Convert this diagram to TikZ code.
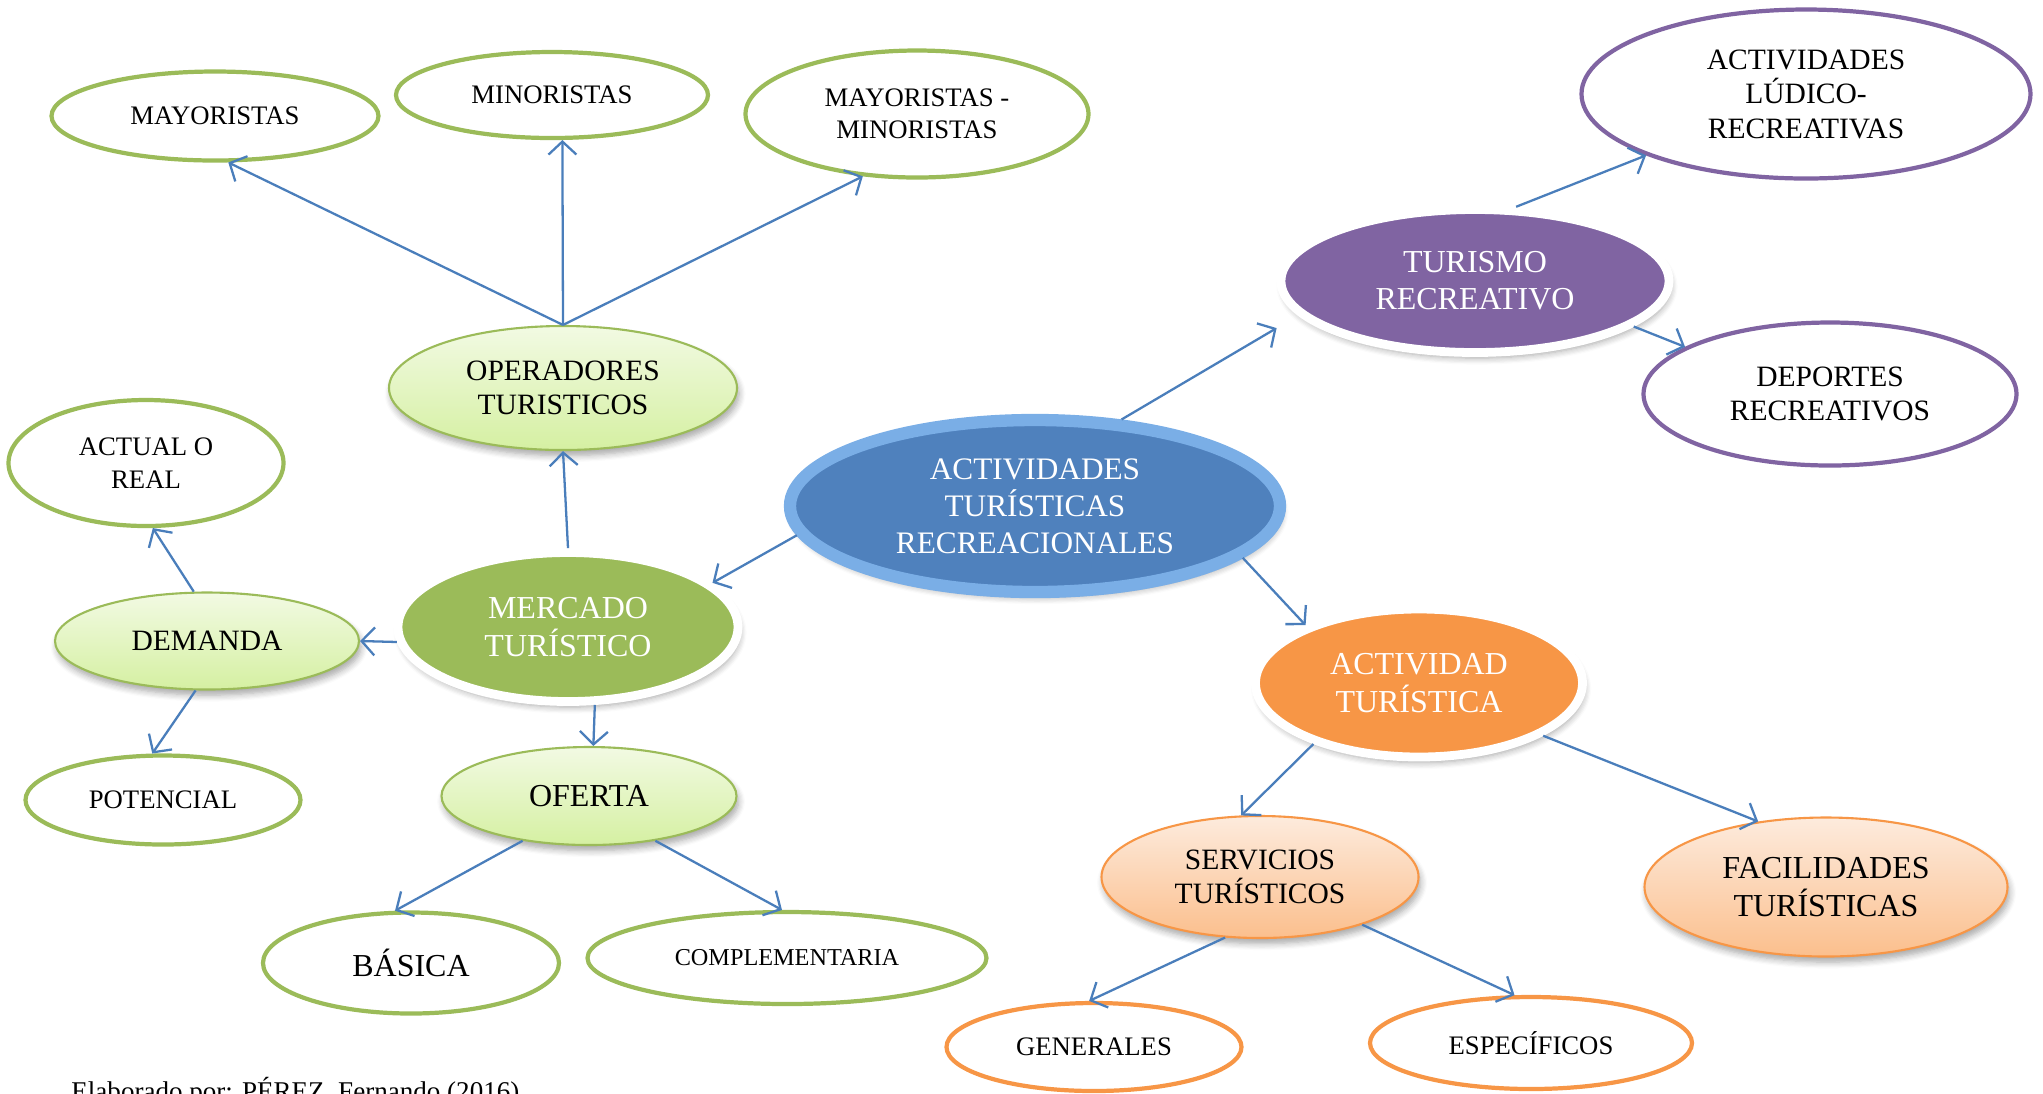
\documentclass[tikz,border=0pt]{standalone}
\usepackage{fontspec}
\setmainfont{Liberation Serif}
\usepackage{tikz}
\usetikzlibrary{shapes}
\usetikzlibrary{shadows.blur}
\usetikzlibrary{arrows.meta}
\definecolor{verde}{HTML}{9BBB59}
\definecolor{verdeA}{HTML}{F2FAE3}
\definecolor{verdeB}{HTML}{D5F0A2}
\definecolor{morado}{HTML}{8064A2}
\definecolor{naranja}{HTML}{F79646}
\definecolor{naranjaA}{HTML}{FDEBDD}
\definecolor{naranjaB}{HTML}{FBBF8D}
\definecolor{azul}{HTML}{4F81BD}
\definecolor{azulB}{HTML}{7AAEE6}
\definecolor{flechaazul}{HTML}{4A7EBB}
\tikzstyle{elip}=[ellipse, inner sep=0pt, align=center]
\tikzstyle{sombra}=[blur shadow={shadow xshift=0.6pt, shadow yshift=-1.6pt, shadow opacity=35, shadow blur steps=6}]
\tikzstyle{borde}=[elip, fill=white, line width=1.2pt]
\tikzstyle{claro}=[elip, line width=0.6pt, sombra]
\tikzstyle{lleno}=[elip, draw=white, line width=2.5pt, text=white, sombra]
\tikzstyle{flecha}=[draw=flechaazul, line width=0.65pt, -{Straight Barb[length=1.3mm,width=2.8mm]}]
\tikzstyle{fa}=[font=\fontsize{7.6}{9.2}\selectfont]
\tikzstyle{fb}=[font=\fontsize{8.4}{9.8}\selectfont]
\tikzstyle{fc}=[font=\fontsize{9.1}{10.6}\selectfont]

\begin{document}
\begin{tikzpicture}
\useasboundingbox (0,0) rectangle (20.43,-10.93);

% mercado turistico
\node[borde, draw=verde, fa, minimum width=3.27cm, minimum height=0.89cm] (mayor) at (2.15,-1.16) {MAYORISTAS};
\node[borde, draw=verde, fa, minimum width=3.12cm, minimum height=0.86cm] (minor) at (5.52,-0.95) {MINORISTAS};
\node[borde, draw=verde, fa, minimum width=3.43cm, minimum height=1.27cm] (maymin) at (9.17,-1.14) {MAYORISTAS -\\MINORISTAS};
\node[claro, draw=verde, top color=verdeA, bottom color=verdeB, fb, minimum width=3.48cm, minimum height=1.24cm] (oper) at (5.63,-3.88) {OPERADORES\\TURISTICOS};
\node[borde, draw=verde, fa, minimum width=2.75cm, minimum height=1.26cm] (actual) at (1.46,-4.63) {ACTUAL O\\REAL};
\node[claro, draw=verde, top color=verdeA, bottom color=verdeB, fb, minimum width=3.04cm, minimum height=0.97cm] (demanda) at (2.07,-6.41) {DEMANDA};
\node[lleno, fill=verde, fc, minimum width=3.40cm, minimum height=1.49cm] (mercado) at (5.68,-6.27) {MERCADO\\TURÍSTICO};
\node[borde, draw=verde, fa, minimum width=2.75cm, minimum height=0.89cm] (potencial) at (1.63,-8.00) {POTENCIAL};
\node[claro, draw=verde, top color=verdeA, bottom color=verdeB, fc, minimum width=2.95cm, minimum height=0.98cm] (oferta) at (5.89,-7.96) {OFERTA};
\node[borde, draw=verde, fc, minimum width=2.96cm, minimum height=1.01cm] (basica) at (4.11,-9.63) {BÁSICA};
\node[borde, draw=verde, font=\fontsize{6.9}{8}\selectfont, minimum width=3.99cm, minimum height=0.92cm] (compl) at (7.87,-9.58) {COMPLEMENTARIA};

% centro
\node[elip, fill=azul, draw=azulB, line width=3.5pt, text=white, sombra, font=\fontsize{8.9}{10.5}\selectfont, minimum width=4.90cm, minimum height=1.72cm] (centro) at (10.35,-5.06) {ACTIVIDADES\\TURÍSTICAS\\RECREACIONALES};

% turismo recreativo
\node[lleno, fill=morado, fc, minimum width=3.88cm, minimum height=1.43cm] (turismo) at (14.75,-2.81) {TURISMO\\RECREATIVO};
\node[borde, draw=morado, fb, minimum width=4.49cm, minimum height=1.69cm] (ludico) at (18.06,-0.94) {ACTIVIDADES\\LÚDICO-\\RECREATIVAS};
\node[borde, draw=morado, fb, minimum width=3.73cm, minimum height=1.43cm] (deportes) at (18.30,-3.94) {DEPORTES\\RECREATIVOS};

% actividad turistica
\node[lleno, fill=naranja, fc, minimum width=3.27cm, minimum height=1.48cm] (activ) at (14.19,-6.83) {ACTIVIDAD\\TURÍSTICA};
\node[claro, draw=naranja, top color=naranjaA, bottom color=naranjaB, fb, minimum width=3.17cm, minimum height=1.22cm] (servicios) at (12.60,-8.77) {SERVICIOS\\TURÍSTICOS};
\node[claro, draw=naranja, top color=naranjaA, bottom color=naranjaB, fc, minimum width=3.63cm, minimum height=1.39cm] (facil) at (18.26,-8.87) {FACILIDADES\\TURÍSTICAS};
\node[borde, draw=naranja, fa, minimum width=2.95cm, minimum height=0.88cm] (generales) at (10.94,-10.47) {GENERALES};
\node[borde, draw=naranja, fa, minimum width=3.22cm, minimum height=0.92cm] (especif) at (15.31,-10.43) {ESPECÍFICOS};

\node[anchor=base west, font=\fontsize{7.7}{9}\selectfont] (autor) at (0.59,-11.0) {Elaborado por: PÉREZ, Fernando (2016)};

% flechas
\draw[flecha] (oper.north) -- (mayor.-74);
\draw[flecha] (oper.north) -- (minor.-77);
\draw[flecha] (oper.north) -- (maymin.-131);
\draw[flecha] (mercado.north) -- (oper.south);
\draw[flecha] (centro.-173) -- (mercado.17);
\draw[flecha] (mercado.185) -- (demanda.east);
\draw[flecha] (demanda.105) -- (actual.-84);
\draw[flecha] (demanda.-103) -- (potencial.103);
\draw[flecha] (mercado.-71) -- (oferta.85);
\draw[flecha] (oferta.-146) -- (basica.107);
\draw[flecha] (oferta.-34) -- (compl.96);
\draw[flecha, shorten >=0.25cm] (centro.45) -- (turismo.191);
\draw[flecha] (turismo.61) -- (ludico.-159);
\draw[flecha] (turismo.-16) -- (deportes.162);
\draw[flecha] (centro.-14) -- (activ.153);
\draw[flecha] (activ.-150) -- (servicios.107);
\draw[flecha] (activ.-23) -- (facil.136);
\draw[flecha] (servicios.-120) -- (generales.96);
\draw[flecha] (servicios.-25) -- (especif.109);
\end{tikzpicture}
\end{document}
